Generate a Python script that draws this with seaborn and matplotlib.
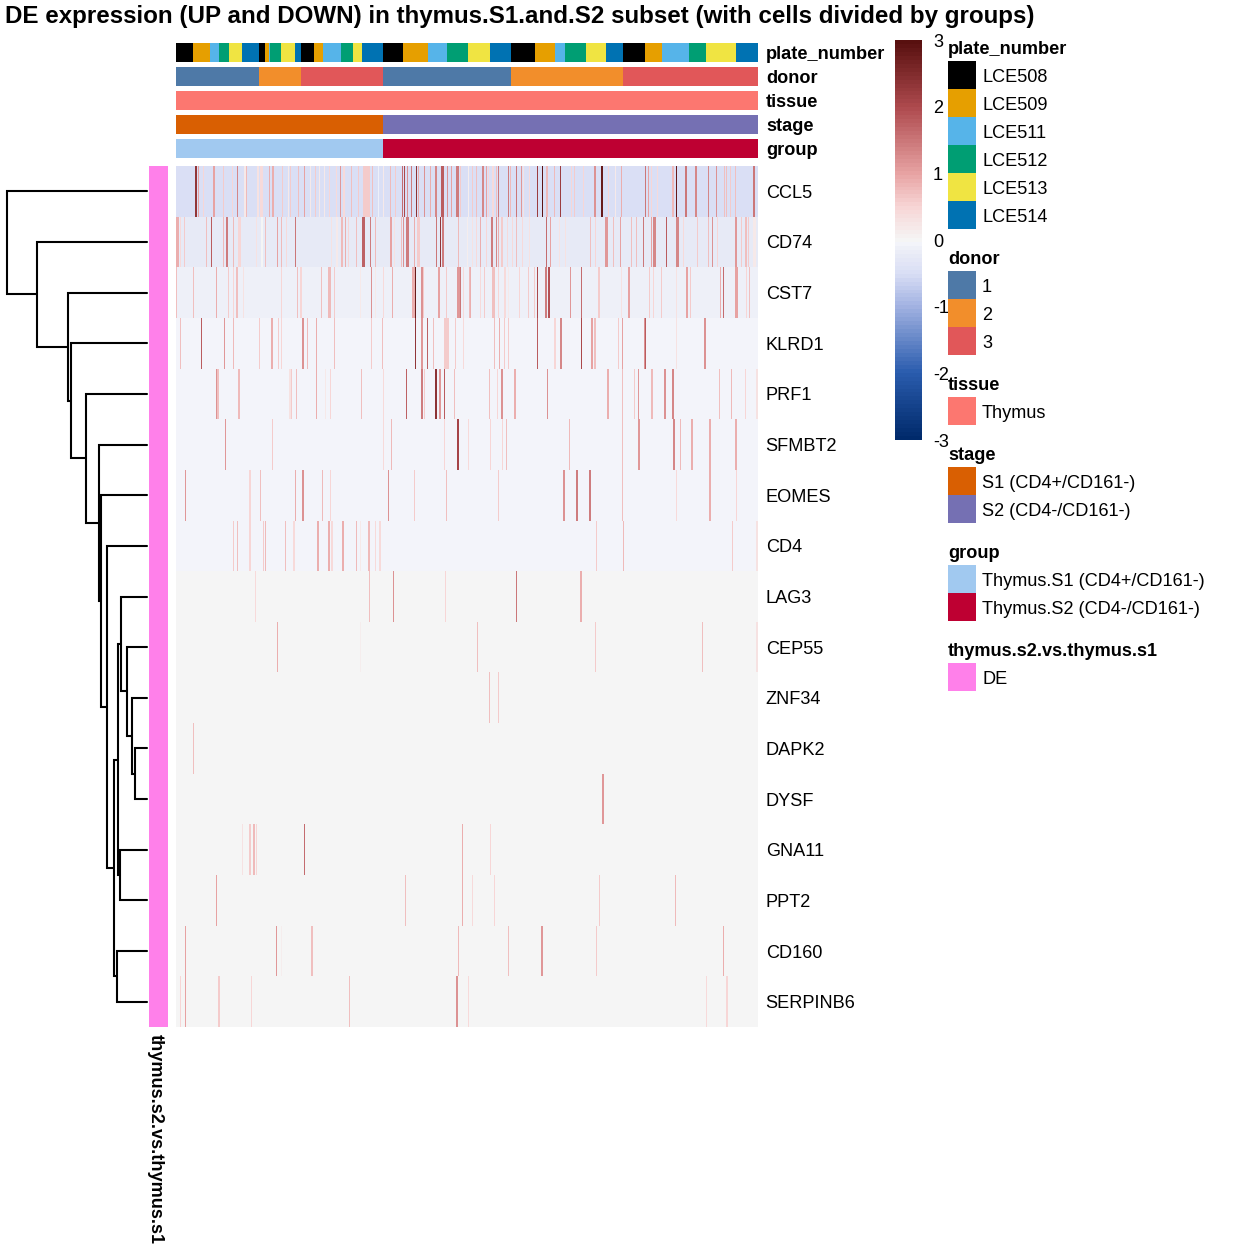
import numpy as np
import pandas as pd
import matplotlib
matplotlib.use('Agg')
import matplotlib.pyplot as plt
from matplotlib.colors import LinearSegmentedColormap, ListedColormap
from matplotlib.patches import Rectangle
from matplotlib.transforms import ScaledTranslation
import seaborn as sns

# --- Data ---
genes = ['CCL5', 'CD74', 'CST7', 'KLRD1', 'PRF1', 'SFMBT2', 'EOMES', 'CD4', 'LAG3',
         'CEP55', 'ZNF34', 'DAPK2', 'DYSF', 'GNA11', 'PPT2', 'CD160', 'SERPINB6']
baseline = [-0.5, -0.24, -0.12, -0.07, -0.07, -0.05, -0.05, -0.05, 0, 0, 0, 0, 0, 0, 0, 0, 0]
n_cells = 582

ccl5_cells = [19, 20, 22, 27, 37, 38, 47, 56, 61, 68, 69, 70, 81, 82, 84, 85, 86, 93, 96, 97, 106, 112, 114, 122, 128,
              134, 139, 143, 148, 153, 160, 164, 167, 168, 175, 182, 187, 188, 189, 190, 191, 192, 193, 196, 202, 207,
              214, 219, 226, 228, 231, 235, 240, 242, 248, 254, 259, 260, 265, 266, 267, 271, 275, 280, 281, 282, 284, 292,
              296, 300, 306, 307, 310, 312, 316, 317, 320, 322, 332, 334, 340, 345, 347, 353, 361, 366, 370, 371, 378, 384,
              395, 398, 407, 418, 419, 425, 426, 432, 439, 445, 469, 472, 475, 481, 496, 497, 500, 509, 510, 519, 520,
              532, 540, 548, 550, 554, 559, 577, 578]
ccl5_vals = [2.3, 2.3, 1.0, 0.5, 1.0, 1.0, 0.6, 0.5, 1.3, 0.2, 0.2, 0.8, 0.3, 0.3, 0.4, 0.4, 0.4, 0.9, 0.9, 0.9, 0.6, 0.2, 0.6, 0.7, 1.0,
             0.2, 0.6, 0.2, 0.2, 0.5, 0.4, 1.1, 0.4, 0.4, 0.7, 0.6, 0.6, 0.6, 0.6, 0.6, 0.6, 0.6, 0.6, 0.7, -0.1, 0.2,
             0.8, 0.6, 1.6, 2.0, 1.2, 1.4, 2.4, 0.9, 1.2, 0.9, 1.3, 1.3, 1.8, 1.8, 1.8, 1.2, 1.0, 1.4, 1.4, 1.4, 0.6, 0.1,
             0.6, 0.7, 1.3, 1.3, 1.0, 0.5, 0.4, 0.4, 0.7, 1.4, 1.4, 0.8, 1.5, 1.1, 0.3, 0.4, 2.2, 2.9, 0.8, 0.8, 0.8, 2.2,
             0.5, 0.6, 0.5, 1.2, 1.2, 2.8, 2.8, 0.5, 0.2, 0.9, 1.5, 1.0, 0.5, 0.4, 0.8, 0.8, 2.8, 1.5, 1.5, 1.3, 1.3,
             1.3, 1.2, 0.7, 0.7, 0.6, 0.7, 1.5, 1.5]

cd74_cells = [0, 1, 2, 4, 8, 30, 35, 47, 50, 51, 57, 62, 63, 64, 80, 85, 86, 89, 101, 105, 110, 119, 155, 160, 161, 165, 166,
              169, 172, 180, 186, 187, 188, 194, 199, 214, 215, 218, 225, 227, 230, 231, 232, 238, 241, 242, 243, 260, 264,
              266, 267, 282, 291, 296, 300, 304, 310, 315, 316, 320, 322, 325, 326, 331, 336, 340, 346, 353, 370, 374, 383,
              389, 414, 419, 429, 430, 431, 437, 444, 455, 460, 467, 475, 477, 478, 479, 490, 500, 501, 502, 507, 521, 532,
              536, 541, 559, 560, 565, 569, 570, 572, 577, 578, 579]
cd74_vals = [0.9, 0.9, 0.9, 0.4, 0.6, 0.7, 1.8, 0.8, 1.4, 1.4, 0.8, 0.5, 0.5, 0.5, 0.3, 0.0, 0.0, 0.7, 1.0, 0.8, 0.4, 1.5, 0.3, 0.2, 0.2, 0.8, 0.8,
             0.9, 0.5, 0.7, 1.7, 1.7, 1.7, 1.4, 0.8, 1.0, 1.0, 0.3, 0.7, 1.2, 1.4, 1.4, 1.4, 0.9, 0.6, 0.6, 0.6, 1.5, 2.3,
             1.4, 1.4, 0.8, 0.1, 0.3, 0.4, 0.9, 0.5, 1.4, 1.4, 1.3, 0.9, 0.6, 0.6, 0.4, 0.4, 0.7, 0.4, 0.3, 1.6, 1.0, 0.3,
             0.3, 0.7, 0.5, 1.1, 1.1, 1.1, 0.7, 1.0, 0.7, 0.7, 1.5, 1.0, 1.3, 1.3, 1.3, 1.8, 1.3, 1.3, 1.3, 0.4, 0.6, 0.7,
             1.2, 0.5, 1.1, 1.1, 0.6, 0.7, 0.7, 0.6, 0.2, 0.2, 0.2]

cst7_cells = [0, 17, 40, 52, 57, 60, 61, 67, 105, 121, 124, 125, 145, 152, 153, 154, 158, 184, 195, 199, 207, 216, 236, 237,
              238, 239, 245, 246, 247, 262, 263, 270, 281, 282, 283, 284, 287, 293, 294, 304, 308, 316, 317, 318, 322, 328,
              329, 332, 343, 352, 358, 361, 369, 370, 372, 373, 394, 405, 422, 423, 445, 452, 453, 473, 477, 485, 500, 510,
              511, 514, 544, 547, 559, 560, 561, 570, 573]
cst7_vals = [0.7, 0.7, 0.9, 0.6, 0.5, 0.7, 0.7, 0.3, 0.5, 0.7, 0.5, 0.5, 0.7, 0.8, 0.8, 0.8, 0.6, 0.2, 1.2, 0.2, 0.4, 0.9, 0.9, 0.9,
             0.9, 2.8, 1.2, 1.2, 0.6, 1.0, 1.0, 0.6, 1.1, 1.1, 1.1, 1.5, 0.4, 0.8, 0.9, 0.4, 0.6, 0.7, 0.7, 0.7, 0.5, 0.4,
             0.4, 0.2, 0.5, 0.6, 0.6, 2.0, 1.4, 1.4, 1.9, 1.9, 1.1, 1.6, 0.6, 0.6, 0.3, 1.0, 1.0, 0.6, 0.5, 0.6, 0.3, 1.0,
             1.0, 0.6, 0.9, 1.6, 1.0, 1.0, 1.0, 0.5, 0.7]

klrd1_cells = [4, 25, 48, 57, 83, 95, 96, 102, 105, 126, 127, 131, 140, 158, 195, 206, 239, 245, 246, 251, 257, 268, 269, 270,
               271, 272, 279, 287, 318, 323, 328, 332, 361, 378, 379, 384, 385, 405, 415, 416, 418, 419, 442, 446, 468, 469,
               500, 528, 529]
klrd1_vals = [0.7, 1.8, 1.1, 0.8, 0.6, 0.9, 0.9, 0.6, 0.5, 1.2, 1.2, 0.8, 0.9, 0.7, 0.6, 0.7, 2.3, 1.1, 1.1, 1.7, 0.7, 0.6, 0.6, 0.6,
              0.6, 0.6, 0.6, 0.4, 0.7, 0.9, 0.6, 0.6, 1.8, 0.5, 0.5, 1.3, 1.3, 2.0, 1.0, 1.0, 0.7, 0.7, 0.6, 1.0, 1.2, 1.8,
              0.3, 1.2, 1.2]

prf1_cells = [40, 41, 42, 62, 63, 113, 114, 115, 120, 140, 149, 154, 185, 207, 230, 245, 246, 248, 259, 260, 263, 264, 268, 278,
              313, 321, 325, 326, 338, 339, 371, 431, 432, 446, 458, 462, 475, 476, 488, 489, 496, 497, 543, 555, 569, 580, 581]
prf1_vals = [1.2, 0.7, 0.7, 0.8, 0.8, 0.3, 0.3, 0.6, 0.7, 0.9, 0.15, 0.5, 0.7, 0.4, 1.7, 1.4, 1.4, 0.6, 2.4, 2.4, 1.1, 1.1, 1.8, 0.7,
             0.7, 0.5, 1.2, 1.2, 0.9, 0.9, 1.2, 0.9, 0.9, 0.7, 0.6, 1.1, 0.8, 0.8, 1.2, 1.2, 1.3, 1.3, 0.7, 0.8, 0.5, 0.3, 0.3]

sfmbt2_cells = [49, 96, 207, 215, 268, 281, 282, 292, 314, 326, 330, 393, 446, 462, 463, 497, 498, 504, 515, 516, 533, 534, 559, 560]
sfmbt2_vals = [1.1, 0.6, 0.4, 0.8, 0.5, 2.1, 2.1, 0.4, 0.5, 0.5, 0.7, 0.8, 0.7, 1.1, 1.1, 1.3, 1.3, 0.8, 0.9, 0.9, 0.9, 0.9, 0.9, 0.9]

eomes_cells = [9, 73, 74, 84, 119, 126, 127, 146, 154, 212, 238, 270, 322, 387, 388, 400, 401, 413, 414, 446, 500, 533, 534, 560]
eomes_vals = [1.1, 0.5, 0.5, 0.7, 0.9, 1.2, 1.2, 0.8, 0.5, 1.2, 0.6, 0.7, 0.6, 1.2, 1.2, 1.4, 1.4, 1.4, 1.4, 0.7, 0.4, 0.9, 0.9, 0.5]

cd4_cells = [57, 61, 73, 74, 87, 89, 109, 117, 118, 141, 142, 152, 153, 155, 156, 166, 167, 180, 184, 192, 193, 199, 203, 204,
             420, 447, 556, 580, 581]
cd4_vals = [0.6, 0.7, 0.5, 0.5, 0.6, 0.8, 0.7, 0.4, 0.4, 0.9, 0.9, 0.9, 0.9, 0.4, 0.4, 0.9, 0.9, 0.8, 0.15, 0.8, 0.8, 0.4, 0.4, 0.4,
            0.6, 0.8, 0.6, 0.3, 0.3]

lag3_cells = [79, 193, 217, 269, 340, 404, 405]
lag3_vals = [0.4, 0.7, 1.2, 0.5, 1.5, 0.9, 0.9]
cep55_cells = [101, 184, 301, 419, 526, 580, 581]
cep55_vals = [0.9, 0.1, 0.7, 0.6, 0.7, 0.3, 0.3]
znf34_cells = [313, 322]
znf34_vals = [0.7, 0.6]
dapk2_cells = [17]
dapk2_vals = [0.7]
dysf_cells = [426, 427]
dysf_vals = [1.1, 1.1]
gna11_cells = [66, 73, 74, 77, 78, 80, 128, 286, 314]
gna11_vals = [0.3, 0.6, 0.6, 0.8, 0.8, 0.5, 1.6, 0.9, 0.5]
ppt2_cells = [40, 229, 286, 296, 318, 423, 499]
ppt2_vals = [1.0, 0.7, 0.9, 0.4, 0.5, 0.6, 0.8]
cd160_cells = [9, 100, 105, 135, 136, 282, 332, 365, 366, 420, 547]
cd160_vals = [1.0, 1.1, 0.1, 0.7, 0.7, 0.8, 0.7, 1.1, 1.1, 0.6, 0.9]
serpinb6_cells = [4, 9, 42, 43, 75, 173, 280, 281, 292, 530, 550, 551]
serpinb6_vals = [0.5, 1.0, 0.6, 0.6, 0.5, 0.7, 1.2, 1.2, 0.4, 0.4, 0.5, 0.5]

all_cells = [ccl5_cells, cd74_cells, cst7_cells, klrd1_cells, prf1_cells, sfmbt2_cells, eomes_cells, cd4_cells, lag3_cells,
             cep55_cells, znf34_cells, dapk2_cells, dysf_cells, gna11_cells, ppt2_cells, cd160_cells, serpinb6_cells]
all_vals = [ccl5_vals, cd74_vals, cst7_vals, klrd1_vals, prf1_vals, sfmbt2_vals, eomes_vals, cd4_vals, lag3_vals,
            cep55_vals, znf34_vals, dapk2_vals, dysf_vals, gna11_vals, ppt2_vals, cd160_vals, serpinb6_vals]

# column annotations as runs of cells
plate_levels = ['LCE508', 'LCE509', 'LCE511', 'LCE512', 'LCE513', 'LCE514']
plate_colors = ['#000000', '#E69F00', '#56B4E9', '#009E73', '#F0E442', '#0072B2']
plate_runs = [0, 1, 2, 3, 4, 5, 0, 1, 2, 3, 4, 5, 0, 1, 2, 3, 4, 5, 0, 1, 2, 3, 4, 5, 0, 1, 2, 3, 4, 5, 0, 1, 2, 3, 4, 5]
plate_lengths = [17, 17, 9, 10, 13, 17, 6, 4, 1, 11, 14, 6, 13, 9, 18, 12, 9, 21,
                 20, 25, 19, 21, 22, 21, 24, 20, 10, 21, 20, 17, 22, 17, 27, 17, 30, 22]
donor_levels = ['1', '2', '3']
donor_colors = ['#4E79A7', '#F28E2B', '#E15759']
donor_runs = [0, 1, 2, 0, 1, 2]
donor_lengths = [83, 42, 82, 128, 112, 135]
tissue_levels = ['Thymus']
tissue_colors = ['#FC7770']
tissue_runs = [0]
tissue_lengths = [582]
stage_levels = ['S1 (CD4+/CD161-)', 'S2 (CD4-/CD161-)']
stage_colors = ['#D95F02', '#7570B3']
stage_runs = [0, 1]
stage_lengths = [207, 375]
group_levels = ['Thymus.S1 (CD4+/CD161-)', 'Thymus.S2 (CD4-/CD161-)']
group_colors = ['#A1C9F0', '#BE0032']
group_runs = [0, 1]
group_lengths = [207, 375]
side_levels = ['DE']
side_colors = ['#FF80EA']

# dendrogram: leaves are 0-16, merged nodes are numbered from 17 on
merge_left = [11, 10, 9, 8, 13, 20, 15, 22, 7, 6, 5, 4, 3, 2, 1, 0]
merge_right = [12, 17, 18, 19, 14, 21, 16, 23, 24, 25, 26, 27, 28, 29, 30, 31]
merge_height = [12.5, 15, 20, 26, 27, 29, 30.5, 33, 40, 46, 48, 61.5, 76, 79, 110, 140]

# --- Setup ---
sns.set_style('white')
plt.rcParams['font.family'] = ['Liberation Sans', 'DejaVu Sans']
plt.rcParams['axes.unicode_minus'] = False
plt.rcParams['text.color'] = 'black'
plt.rcParams['xtick.labelcolor'] = 'black'
plt.rcParams['ytick.labelcolor'] = 'black'
label_size = 13.05

FIG_PX = 1248
fig = plt.figure(figsize=(FIG_PX / 100, FIG_PX / 100), dpi=100)


def px_axes(x0, y0, x1, y1):
    return fig.add_axes([x0 / FIG_PX, 1 - y1 / FIG_PX, (x1 - x0) / FIG_PX, (y1 - y0) / FIG_PX])


# odd number of levels so that 0 lands exactly on the neutral grey
heat_cmap = LinearSegmentedColormap.from_list(
    'expr',
    [(0.0, '#002A6B'), (1 / 6, '#2A5CAE'), (2 / 6, '#A3B3E2'), (2.5 / 6, '#D9DEF5'), (2.76 / 6, '#E7EAF6'),
     (2.88 / 6, '#EEF0F8'), (2.94 / 6, '#F3F4FA'), (3 / 6, '#F5F5F5'),
     (3.5 / 6, '#F7D5D5'), (4 / 6, '#E8A4A4'), (5 / 6, '#AE4A4E'), (1.0, '#58100F')],
    N=101,
)

# --- Main heatmap with colour bar ---
matrix = np.tile(np.array(baseline)[:, None], (1, n_cells))
for row, (cells, vals) in enumerate(zip(all_cells, all_vals)):
    matrix[row, cells] = vals
expr = pd.DataFrame(matrix, index=genes)

ax_main = px_axes(176, 166, 758, 1027)
ax_cbar = px_axes(895, 40, 922, 440)
sns.heatmap(expr, ax=ax_main, cmap=heat_cmap, vmin=-3, vmax=3, cbar_ax=ax_cbar, xticklabels=False, yticklabels=True)
ax_main.yaxis.tick_right()
ax_main.tick_params(axis='y', length=0, pad=5.5, labelsize=label_size, labelrotation=0)
ax_main.set_xlabel('')
ax_main.set_ylabel('')

cbar_ticks = [-3, -2, -1, 0, 1, 2, 3]
ax_cbar.set_yticks(cbar_ticks)
ax_cbar.set_yticklabels([str(t) for t in cbar_ticks])
ax_cbar.tick_params(axis='y', length=0, pad=8, labelsize=label_size)

# --- Column annotation tracks ---
tracks = [
    ('plate_number', plate_runs, plate_lengths, plate_colors, (43, 62)),
    ('donor', donor_runs, donor_lengths, donor_colors, (67, 86)),
    ('tissue', tissue_runs, tissue_lengths, tissue_colors, (91, 110)),
    ('stage', stage_runs, stage_lengths, stage_colors, (115, 134)),
    ('group', group_runs, group_lengths, group_colors, (139, 158)),
]
for name, runs, lengths, colors, (y0, y1) in tracks:
    ax = px_axes(176, y0, 758, y1)
    codes = np.repeat(runs, lengths)[None, :]
    sns.heatmap(pd.DataFrame(codes, index=[name]), ax=ax, cmap=ListedColormap(colors), vmin=-0.5, vmax=len(colors) - 0.5,
                cbar=False, xticklabels=False, yticklabels=True)
    ax.yaxis.tick_right()
    ax.tick_params(axis='y', length=0, pad=5.8, labelsize=label_size, labelrotation=0)
    for lab in ax.get_yticklabels():
        lab.set_fontweight('bold')
    ax.set_ylabel('')

# --- Row annotation bar ---
ax_side = px_axes(149, 166, 168, 1027)
side_codes = pd.DataFrame(np.zeros((len(genes), 1)), index=genes, columns=['thymus.s2.vs.thymus.s1'])
sns.heatmap(side_codes, ax=ax_side, cmap=ListedColormap(side_colors), cbar=False, xticklabels=True, yticklabels=False)
ax_side.tick_params(axis='x', length=0, pad=5.0, labelsize=label_size)
nudge = ScaledTranslation(-3.5 / 100, 0, fig.dpi_scale_trans)
for lab in ax_side.get_xticklabels():
    lab.set_rotation(270)
    lab.set_fontweight('bold')
    lab.set_ha('center')
    lab.set_va('top')
    lab.set_transform(lab.get_transform() + nudge)
ax_side.set_ylabel('')

# --- Row dendrogram ---
ax_den = px_axes(7, 166, 147, 1027)
ax_den.set_xlim(140, 0)
ax_den.set_ylim(len(genes), 0)
ax_den.axis('off')
node_y = {i: i + 0.5 for i in range(len(genes))}
node_h = {i: 0 for i in range(len(genes))}
for k, (left, right, height) in enumerate(zip(merge_left, merge_right, merge_height)):
    ax_den.plot([node_h[left], height, height, node_h[right]],
                [node_y[left], node_y[left], node_y[right], node_y[right]],
                color='black', lw=1.5, solid_joinstyle='miter', clip_on=False)
    node_y[len(genes) + k] = (node_y[left] + node_y[right]) / 2
    node_h[len(genes) + k] = height

# --- Legends ---
ax_leg = fig.add_axes([0, 0, 1, 1], facecolor='none')
ax_leg.set_xlim(0, FIG_PX)
ax_leg.set_ylim(FIG_PX, 0)
ax_leg.axis('off')

legends = [
    ('plate_number', plate_levels, plate_colors, 61),
    ('donor', donor_levels, donor_colors, 271),
    ('tissue', tissue_levels, tissue_colors, 397),
    ('stage', stage_levels, stage_colors, 467),
    ('group', group_levels, group_colors, 565),
    ('thymus.s2.vs.thymus.s1', side_levels, side_colors, 663),
]
for title, levels, colors, top in legends:
    ax_leg.text(948, top - 11, title, fontsize=label_size, fontweight='bold', ha='left', va='center')
    for i, (level, color) in enumerate(zip(levels, colors)):
        ax_leg.add_patch(Rectangle((948, top + 28 * i), 28, 28, facecolor=color, edgecolor='none'))
        ax_leg.text(982, top + 28 * i + 16, level, fontsize=label_size, ha='left', va='center')

ax_leg.text(5, 16.5, 'DE expression (UP and DOWN) in thymus.S1.and.S2 subset (with cells divided by groups)',
            fontsize=17.35, fontweight='bold', ha='left', va='center')

fig.savefig('out.png', dpi=100)
